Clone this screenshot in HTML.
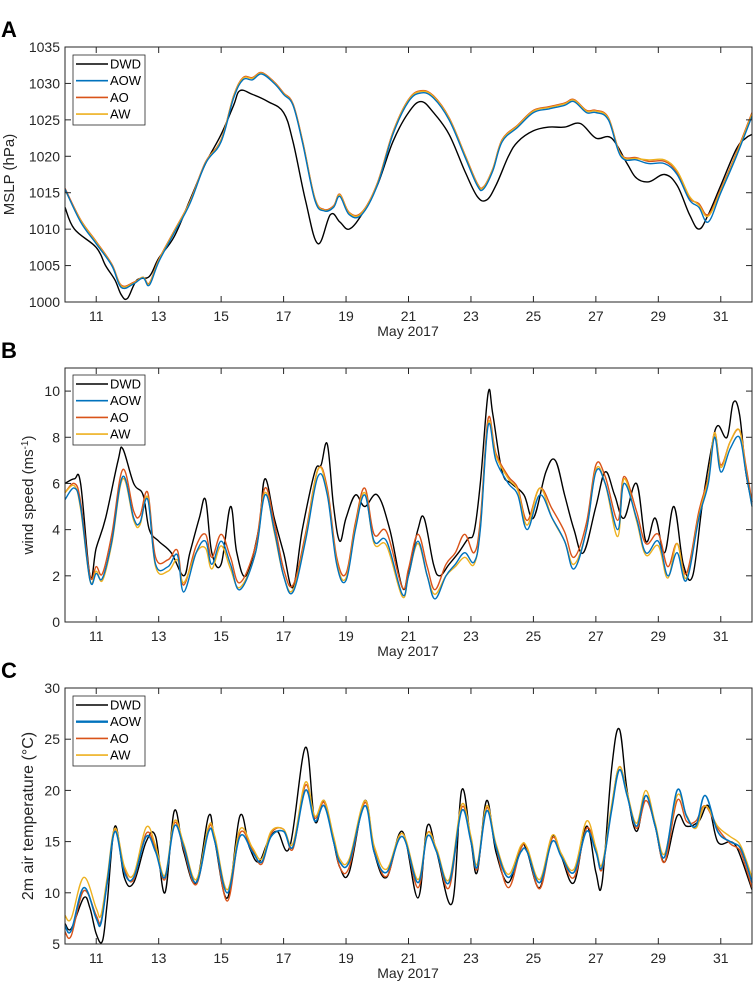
<!DOCTYPE html>
<html><head><meta charset="utf-8"><style>
body{margin:0;background:#fff;}
svg{display:block;font-family:"Liberation Sans",sans-serif;}
</style></head><body>
<svg id="fig" width="753" height="985"></svg>
<script>
// ---------- Panel A data (MSLP, hPa) ----------
const tA_dwd=[10,10.3,11,11.3,11.6,11.8,12,12.3,12.7,13,13.5,14,14.5,15,15.4,15.6,16,16.5,17,17.3,17.7,18.1,18.5,18.8,19.1,19.5,20,20.5,21,21.4,21.8,22.3,22.8,23.2,23.5,23.8,24.2,24.5,25,25.5,26,26.5,27,27.5,28,28.3,28.7,29.2,29.6,30,30.3,30.6,31,31.5,31.8,32];
const pA_dwd=[1013,1010,1007.5,1005,1003,1001,1000.5,1003,1003.5,1006,1009,1014,1019,1023,1027,1029,1028.5,1027.5,1026,1022,1014,1008,1012,1011,1010,1012,1016,1022,1026,1027.5,1026,1023,1018,1014.5,1014,1016,1020,1022,1023.5,1024,1024,1024.5,1022.5,1022.5,1019,1017,1016.5,1017.5,1016,1012,1010,1012,1016,1021,1022.5,1023];
const tA_mod=[10,10.5,11,11.5,11.8,12.2,12.5,12.7,13,13.5,14,14.5,15,15.4,15.7,16,16.3,16.7,17,17.3,17.6,18,18.3,18.6,18.8,19.1,19.5,20,20.5,21,21.4,21.8,22.3,22.8,23.2,23.4,23.7,24,24.5,25,25.5,26,26.3,26.7,27,27.4,27.8,28.3,28.7,29.2,29.6,30,30.3,30.6,31,31.5,32];
const pA_aow=[1015.5,1011,1008,1005,1002,1002.5,1003.3,1002.3,1005.5,1009.5,1013.5,1019,1022,1028,1030.5,1030.5,1031.3,1030,1028.5,1027,1022,1014,1012.5,1013,1014.5,1012,1012,1016,1023,1027.5,1028.7,1028,1025,1020,1016,1015.5,1018,1022,1024,1026,1026.5,1027,1027.5,1026,1026,1025,1020,1019.5,1019,1019,1017.5,1014,1013,1011,1015,1020,1025.5];
const pA_ao=[1015.6,1011.3,1008.3,1005.2,1002.3,1002.7,1003.4,1002.6,1005.8,1009.8,1013.8,1019.2,1022.3,1028.3,1030.8,1030.8,1031.5,1030.2,1028.7,1027.2,1022.3,1014.3,1012.7,1013.2,1014.8,1012.3,1012.3,1016.3,1023.3,1027.8,1029,1028.3,1025.3,1020.3,1016.3,1015.8,1018.3,1022.3,1024.3,1026.3,1026.8,1027.3,1027.8,1026.3,1026.3,1025.3,1020.3,1019.8,1019.3,1019.3,1017.8,1014.3,1013.5,1012,1015.5,1020.5,1026];
const pA_aw=[1015.4,1011.2,1008.2,1005.1,1002.2,1002.6,1003.4,1002.5,1005.7,1009.7,1013.7,1019.1,1022.2,1028.2,1030.7,1030.7,1031.4,1030.1,1028.6,1027.1,1022.2,1014.2,1012.6,1013.1,1014.7,1012.2,1012.2,1016.2,1023.2,1027.7,1028.9,1028.2,1025.2,1020.2,1016.2,1015.7,1018.2,1022.2,1024.2,1026.2,1026.7,1027.2,1027.7,1026.2,1026.2,1025.2,1020.2,1019.7,1019.5,1019.5,1018,1014.5,1013.3,1011.8,1015.3,1020.3,1025.8];
// ---------- Panel B data (wind speed, m/s) ----------
const tB_dwd=[10,10.3,10.5,10.8,11,11.3,11.7,11.85,12.2,12.5,12.7,13,13.4,13.8,14,14.3,14.5,14.7,15,15.3,15.5,15.8,16.2,16.4,16.7,17,17.3,17.6,18,18.2,18.4,18.6,18.8,19,19.3,19.6,20,20.4,20.8,21,21.3,21.5,21.8,22,22.3,22.6,22.9,23.1,23.3,23.55,23.7,24,24.3,24.7,25,25.4,25.7,26,26.3,26.6,27,27.3,27.6,27.9,28.3,28.6,28.9,29.2,29.5,29.8,30.1,30.4,30.7,30.9,31.2,31.4,31.6,31.8,32];
const wB_dwd=[6.0,6.2,6.0,2.0,3.2,4.5,7.0,7.5,6.0,5.5,4.0,3.5,3.0,2.0,3.0,4.5,5.3,3.0,2.5,5.0,3.0,2.0,4.0,6.2,4.5,3.0,1.5,4.0,6.5,6.8,7.7,5.0,3.5,4.5,5.5,5.0,5.5,4.0,1.5,2.2,4.0,4.5,2.5,2.0,2.5,3.0,3.6,3.9,6.0,9.9,9.0,6.5,6.0,5.5,4.5,6.5,7.0,5.5,4.0,3.0,5.0,6.5,5.5,4.5,6.0,3.5,4.5,3.0,5.0,2.5,2.0,5.0,7.5,8.5,8.0,9.5,9.0,6.5,5.2];
const tB_mod=[10,10.3,10.5,10.8,11,11.2,11.5,11.85,12.2,12.4,12.65,12.9,13.3,13.6,13.8,14.2,14.5,14.7,15,15.3,15.6,16.1,16.4,16.7,17,17.3,17.7,18.1,18.4,18.7,19,19.3,19.6,19.9,20.3,20.8,21,21.3,21.6,21.85,22.2,22.5,22.8,23.1,23.3,23.55,23.8,24.2,24.5,24.8,25.2,25.6,26,26.3,26.7,27,27.3,27.7,27.9,28.3,28.6,29,29.3,29.6,29.9,30.3,30.6,30.8,31,31.3,31.6,31.8,32];
const wB_aow=[5.3,5.8,5.0,1.8,2.1,1.9,3.5,6.3,4.5,4.3,5.3,2.5,2.4,2.9,1.3,3.0,3.5,2.5,3.5,2.5,1.4,3.0,5.5,4.0,2.0,1.3,3.5,6.3,5.5,2.5,1.8,4.0,5.5,3.5,3.5,1.2,2.0,3.5,2.0,1.0,2.0,2.5,3.0,2.6,4.0,8.5,7.0,6.0,5.5,4.0,5.5,4.5,3.5,2.3,4.0,6.5,6.0,4.0,6.0,4.5,3.0,3.5,2.0,3.0,1.8,4.5,6.0,8.0,6.5,7.5,8.0,6.5,5.0];
const wB_ao=[5.6,6.0,5.2,2.0,2.4,2.1,3.8,6.6,4.8,4.6,5.6,2.8,2.7,3.1,1.6,3.3,3.8,2.8,3.8,2.8,1.7,3.3,5.8,4.3,2.3,1.6,3.8,6.6,5.8,2.8,2.1,4.3,5.8,3.8,3.9,1.5,2.3,3.8,2.4,1.4,2.5,3.0,3.8,3.0,4.4,8.8,7.3,6.3,5.8,4.4,5.8,4.9,3.9,2.8,4.3,6.8,6.3,4.4,6.3,4.8,3.4,3.8,2.4,3.4,2.1,4.8,6.3,8.2,6.8,7.8,8.3,6.8,5.2];
const wB_aw=[5.6,5.9,4.9,1.8,2.2,1.8,3.4,6.2,4.4,4.2,5.4,2.4,2.2,2.7,1.7,3.0,3.2,2.3,3.3,2.3,1.5,3.0,5.6,3.9,2.0,1.4,3.6,6.6,5.6,2.6,1.9,4.1,5.6,3.4,3.3,1.1,2.0,3.4,2.0,1.2,2.0,2.4,2.8,2.5,4.1,8.6,7.2,6.2,5.7,4.2,5.8,4.5,3.5,2.5,4.0,6.6,6.0,3.7,6.2,4.4,2.9,3.3,1.9,3.4,1.9,4.6,6.2,8.2,6.7,7.8,8.3,6.6,5.0];
// ---------- Panel C data (2m air temperature, °C) ----------
const tC_dwd=[10,10.2,10.6,10.8,11,11.2,11.35,11.6,11.9,12.2,12.6,12.9,13.2,13.5,13.8,14.2,14.6,14.8,15.2,15.6,15.9,16.2,16.5,16.8,17.2,17.7,18,18.3,18.6,18.8,19.1,19.6,19.9,20.3,20.8,21.3,21.6,21.9,22.4,22.7,23,23.2,23.5,23.8,24.2,24.6,24.8,25.2,25.6,25.9,26.3,26.7,27,27.2,27.5,27.75,28,28.3,28.6,28.9,29.2,29.6,29.9,30.3,30.6,30.9,31.3,31.5,31.7,32];
const vC_dwd=[7.0,6.5,9.5,8.5,6.0,5.3,9,16.5,11.5,11,15,15.5,10.0,18,14,11.0,17.5,15,9.5,17.5,14.5,13,15,16,14.5,24.2,17,19,15,12.5,12,19,14,11.5,16,9.5,16.5,14,9.0,20,15,12,19,14,11,14.5,14,10.5,15.5,13.5,11,16.5,12,11,22,26,20,16,19.5,16.5,13,17.5,16.5,17,18.5,15,15,14.5,13,10.3];
const tC_mod=[10,10.2,10.6,11,11.15,11.35,11.6,11.9,12.2,12.6,12.9,13.2,13.5,13.8,14.2,14.6,14.8,15.2,15.6,16,16.3,16.6,17,17.3,17.7,18,18.3,18.6,18.8,19.1,19.6,19.9,20.3,20.8,21.3,21.6,21.9,22.3,22.7,23,23.2,23.5,23.8,24.2,24.6,24.8,25.2,25.6,25.9,26.3,26.7,27,27.2,27.5,27.75,28,28.3,28.6,28.9,29.2,29.6,29.9,30.2,30.5,30.9,31.3,31.6,31.8,32];
const vC_aow=[6.8,6.3,10.5,7.5,7,11,16,12,11.5,15.5,14,11.5,16.5,14.5,11,16,15,10,15.5,14,13,15.5,16,14.5,20,17,18.5,15,13,13,18.5,14,12,15.5,11,15.5,14,11,18,15,12.5,18,14.5,11.5,14,14,11,15,13.5,12,16,14,12.5,18,22,19.5,16.5,19.5,16.5,13.5,20,17.5,16.5,19.5,16,15,14.5,13,11];
const vC_ao=[6.2,5.8,10.2,7.8,7.2,11,16.2,12.3,11.3,15.8,14.3,11.3,16.8,14.3,10.8,16.3,15.2,9.2,15.8,14.2,12.8,15.8,16.2,14.3,20.5,17.3,18.8,15.3,12.5,12.5,18.8,14.3,11.6,15.8,10.5,15.8,14.2,10.5,18.3,15.2,12.3,18.3,14.5,10.5,14.3,14.3,10.4,15.3,13.6,11.5,16.3,14.2,12.3,18.3,22.3,19.7,16.3,19,16.6,13,19,17,17,18.5,16.3,14.8,14.2,12.5,10.5];
const vC_aw=[7.8,7.5,11.5,8.5,7.8,11.5,16.3,12.6,11.8,16.4,14.6,11.7,17,14.8,11.3,16.5,15.5,10.3,16.2,14.4,13.3,16,16.2,14.8,20.8,17.5,19,15.5,13.3,13.3,19,14.6,12.3,15.8,11.3,15.8,14.3,11.3,18.6,15.5,12.8,18.5,14.8,11.8,14.6,14.4,11.3,15.6,13.8,12.3,17,14.4,12.8,18.5,22.3,19.8,16.8,20,16.8,13.8,19.5,17.6,16.3,18.5,16.5,15.5,14.8,13.3,11.5];
// ticks
const xTicks=[11,13,15,17,19,21,23,25,27,29,31];
const yTicksA=[1000,1005,1010,1015,1020,1025,1030,1035];
const yTicksB=[0,2,4,6,8,10];
const yTicksC=[5,10,15,20,25,30];
const legendLabels=['DWD','AOW','AO','AW'];
const colors={DWD:'#000000',AOW:'#0072BD',AO:'#D95319',AW:'#EDB120'};

const NS='http://www.w3.org/2000/svg';
const svg=document.getElementById('fig');
function mk(tag,attrs,parent){const e=document.createElementNS(NS,tag);for(const k in attrs)e.setAttribute(k,attrs[k]);(parent||svg).appendChild(e);return e;}
const X0=65,X1=752,D0=10,D1=32;
function xs(d){return X0+(d-D0)*(X1-X0)/(D1-D0);}
function smoothPath(pts){
  let d='M'+pts[0][0].toFixed(1)+','+pts[0][1].toFixed(1);
  const k=0.18;
  for(let i=0;i<pts.length-1;i++){
    const p0=pts[Math.max(i-1,0)],p1=pts[i],p2=pts[i+1],p3=pts[Math.min(i+2,pts.length-1)];
    const c1x=p1[0]+(p2[0]-p0[0])*k,c1y=p1[1]+(p2[1]-p0[1])*k;
    const c2x=p2[0]-(p3[0]-p1[0])*k,c2y=p2[1]-(p3[1]-p1[1])*k;
    d+='C'+c1x.toFixed(1)+','+c1y.toFixed(1)+' '+c2x.toFixed(1)+','+c2y.toFixed(1)+' '+p2[0].toFixed(1)+','+p2[1].toFixed(1);
  }
  return d;
}

function panel(cfg){
  const g=mk('g',{});
  
  
  const ys=v=>cfg.yb-(v-cfg.vmin)*(cfg.yb-cfg.yt)/(cfg.vmax-cfg.vmin);
  cfg.series.forEach(s=>{
    const pts=s.t.map((t,i)=>[xs(t),ys(s.v[i])]);
    const p=mk('path',{d:smoothPath(pts),fill:'none',stroke:colors[s.k],'stroke-width':s.w||1.4,'stroke-linejoin':'round'},g);
    
    
  });
  const fr=mk('rect',{x:X0,y:cfg.yt,width:X1-X0,height:cfg.yb-cfg.yt,fill:'none',stroke:'#262626','stroke-width':1},g);
  
  
  xTicks.forEach(t=>{
    const x=xs(t);
    mk('line',{x1:x,x2:x,y1:cfg.yb,y2:cfg.yb-6,stroke:'#262626'},g);
    mk('line',{x1:x,x2:x,y1:cfg.yt,y2:cfg.yt+6,stroke:'#262626'},g);
    const tx=mk('text',{x:x,y:cfg.yb+19,'text-anchor':'middle','font-size':14,fill:'#262626'},g);
    tx.textContent=t;
    
    
  });
  cfg.yticks.forEach(v=>{
    const y=ys(v);
    mk('line',{x1:X0,x2:X0+6,y1:y,y2:y,stroke:'#262626'},g);
    mk('line',{x1:X1,x2:X1-6,y1:y,y2:y,stroke:'#262626'},g);
    const tx=mk('text',{x:X0-5,y:y+5,'text-anchor':'end','font-size':14,fill:'#262626'},g);
    tx.textContent=v;
    
    
  });
  const xl=mk('text',{x:408,y:cfg.yb+34,'text-anchor':'middle','font-size':14,fill:'#262626'},g);
  xl.textContent='May 2017';
  
  
  const yl=mk('text',{x:0,y:0,'text-anchor':'middle','font-size':cfg.ylfs||14,fill:'#262626',transform:`translate(${cfg.ylx},${(cfg.yt+cfg.yb)/2}) rotate(-90)`},g);
  yl.innerHTML=cfg.ylabel;
  
  
  const pl=mk('text',{x:1,y:cfg.yt-10,'font-size':22,'font-weight':'bold',fill:'#000'},g);
  pl.textContent=cfg.letter;
  
  
  const lg=mk('g',{},g);
  
  
  mk('rect',{x:73,y:cfg.ly,width:72,height:70,fill:'#fff',stroke:'#262626','stroke-width':0.8},lg);
  legendLabels.forEach((k,i)=>{
    const y=cfg.ly+9+i*16.7;
    const ln=mk('line',{x1:76,x2:108,y1:y,y2:y,stroke:colors[k],'stroke-width':(cfg.boldAOW&&k==='AOW')?2.4:1.6},lg);
    
    
    const t=mk('text',{x:110,y:y+4.5,'font-size':13,fill:'#000'},lg);
    t.textContent=k;
    
    
  });
}
panel({name:'panel-a-mslp',letter:'A',yt:47,yb:302,vmin:1000,vmax:1035,yticks:yTicksA,ylabel:'MSLP (hPa)',ylx:14,ylfs:15,ly:55,
  series:[{k:'DWD',t:tA_dwd,v:pA_dwd},{k:'AO',t:tA_mod,v:pA_ao},{k:'AW',t:tA_mod,v:pA_aw},{k:'AOW',t:tA_mod,v:pA_aow}]});
panel({name:'panel-b-wind',letter:'B',yt:368,yb:622,vmin:0,vmax:11,yticks:yTicksB,ylabel:'wind speed (ms<tspan dy="-5" font-size="10">-1</tspan><tspan dy="5">)</tspan>',ylx:33,ylfs:15,ly:375,
  series:[{k:'DWD',t:tB_dwd,v:wB_dwd},{k:'AO',t:tB_mod,v:wB_ao},{k:'AW',t:tB_mod,v:wB_aw},{k:'AOW',t:tB_mod,v:wB_aow}]});
panel({name:'panel-c-temperature',letter:'C',yt:688,yb:944,vmin:5,vmax:30,yticks:yTicksC,ylabel:'2m air temperature (°C)',ylx:33,ylfs:16,ly:696,boldAOW:true,
  series:[{k:'DWD',t:tC_dwd,v:vC_dwd},{k:'AO',t:tC_mod,v:vC_ao},{k:'AW',t:tC_mod,v:vC_aw},{k:'AOW',t:tC_mod,v:vC_aow,w:1.6}]});
</script>
</body></html>
